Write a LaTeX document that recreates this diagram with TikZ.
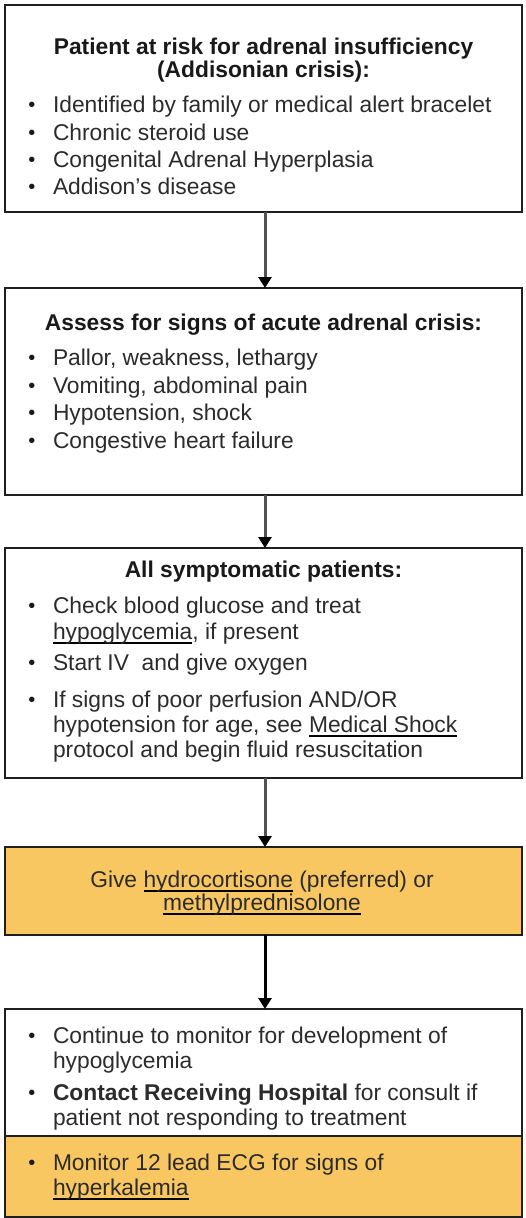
\documentclass[tikz,border=0pt]{standalone}
\usepackage{fontspec}
\setmainfont{Liberation Sans}
\newsavebox{\ulnkbox}
\newcommand{\ulnk}[1]{\sbox{\ulnkbox}{#1}\rlap{\color{black}\rule[-4.6pt]{\wd\ulnkbox}{1.7pt}}\usebox{\ulnkbox}}
\usetikzlibrary{arrows.meta}
\definecolor{boxorange}{HTML}{F9C762}
\definecolor{txtgray}{HTML}{2B2B2B}
\tikzset{
  box/.style={draw=black!88, line width=2.4pt, inner sep=0pt, outer sep=0pt, anchor=north west, minimum width=517pt},
  obox/.style={box, fill=boxorange},
  txt/.style={inner sep=0pt, outer sep=0pt, text=txtgray, font=\fontsize{22.8}{27}\selectfont},
  txtb/.style={txt, font=\fontsize{22.8}{27}\selectfont\bfseries, text=black!90},
  bulst/.style={inner sep=0pt, outer sep=0pt, text=black!90, font=\fontsize{20}{22}\selectfont},
  arr/.style={draw=black!68, line width=3pt, -{Triangle[width=13pt,length=11pt,color=black,fill=black]}}
}
\newcommand{\itemline}[4]{\node[txt, anchor=base west] (#1) at (53,#2) {#4};\node[bulst, anchor=base] (#1b) at (32,#2-0.8) {#3};}
\newcommand{\contline}[3]{\node[txt, anchor=base west] (#1) at (53,#2) {#3};}
\begin{document}
\begin{tikzpicture}[x=1pt,y=-1pt]
\useasboundingbox (0,0) rectangle (525,1218);
% boxes
\node[box, minimum height=207pt] (b1) at (5,5) {};
\node[box, minimum height=207pt] (b2) at (5,288) {};
\node[box, minimum height=230pt] (b3) at (5,548) {};
\node[obox, minimum height=88pt] (b4) at (5,847) {};
\node[box, minimum height=127pt] (b5) at (5,1009) {};
\node[obox, minimum height=81pt] (b6) at (5,1136) {};
% arrows
\draw[arr] ([xshift=1.5pt]b1.south) -- ([xshift=1.5pt]b2.north);
\draw[arr] ([xshift=1.5pt]b2.south) -- ([xshift=1.5pt]b3.north);
\draw[arr] ([xshift=1.5pt]b3.south) -- ([xshift=1.5pt]b4.north);
\draw[arr, draw=black] ([xshift=1.5pt]b4.south) -- ([xshift=1.5pt]b5.north);
% box 1
\node[txtb, anchor=base] (t1a) at (263.5,54) {Patient at risk for adrenal insufficiency};
\node[txtb, anchor=base] (t1b) at (263.5,77) {(Addisonian crisis):};
\itemline{i11}{112}{\textbullet}{Identified by family or medical alert bracelet}
\itemline{i12}{140}{\textbullet}{Chronic steroid use}
\itemline{i13}{167}{\textbullet}{Congenital Adrenal Hyperplasia}
\itemline{i14}{194}{\textbullet}{Addison's disease}
% box 2
\node[txtb, anchor=base] (t2) at (263.5,330) {Assess for signs of acute adrenal crisis:};
\itemline{i21}{365}{\textbullet}{Pallor, weakness, lethargy}
\itemline{i22}{393}{\textbullet}{Vomiting, abdominal pain}
\itemline{i23}{420}{\textbullet}{Hypotension, shock}
\itemline{i24}{448}{\textbullet}{Congestive heart failure}
% box 3
\node[txtb, anchor=base] (t3) at (263.5,577) {All symptomatic patients:};
\itemline{i31}{613}{\textbullet}{Check blood glucose and treat}
\contline{i31c}{639}{\ulnk{hypoglycemia}, if present}
\itemline{i32}{670}{\textbullet}{Start IV\ \ and give oxygen}
\itemline{i33}{707}{\textbullet}{If signs of poor perfusion AND/OR}
\contline{i33c}{732}{hypotension for age, see \ulnk{Medical Shock}}
\contline{i33d}{757}{protocol and begin fluid resuscitation}
% box 4
\node[txt, anchor=base] (t4a) at (262,887) {Give \ulnk{hydrocortisone} (preferred) or};
\node[txt, anchor=base] (t4b) at (262,910) {\ulnk{methylprednisolone}};
% box 5
\itemline{i51}{1043}{\textbullet}{Continue to monitor for development of}
\contline{i51c}{1068}{hypoglycemia}
\itemline{i52}{1100}{\textbullet}{\textbf{Contact Receiving Hospital} for consult if}
\contline{i52c}{1125}{patient not responding to treatment}
% box 6
\itemline{i61}{1170}{\textbullet}{Monitor 12 lead ECG for signs of}
\contline{i61c}{1195}{\ulnk{hyperkalemia}}
\end{tikzpicture}
\end{document}
